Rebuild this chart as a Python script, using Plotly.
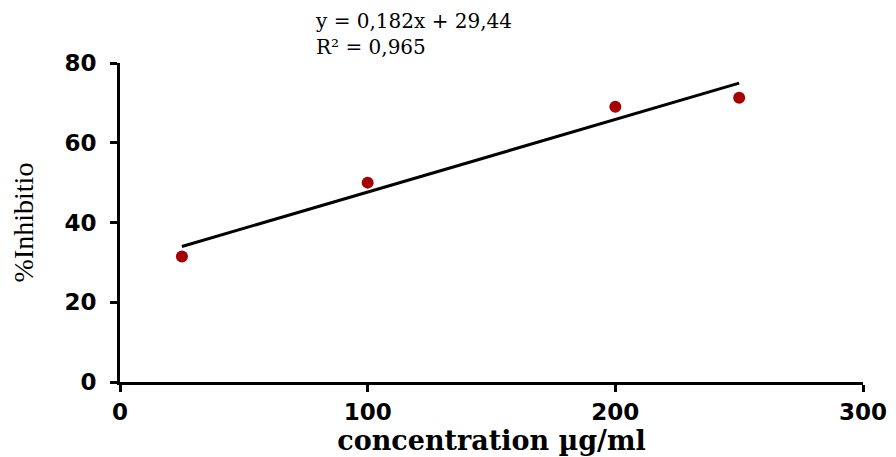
import plotly.graph_objects as go

# Data
concentration = [25, 100, 200, 250]
inhibition = [31.5, 50.0, 69.0, 71.3]
slope = 0.182
intercept = 29.44
r_squared = 0.965
x_ticks = [0, 100, 200, 300]
y_ticks = [0, 20, 40, 60, 80]

fit_x = [min(concentration), max(concentration)]
fit_y = [slope * v + intercept for v in fit_x]

fig = go.Figure()
fig.add_trace(go.Scatter(
    x=fit_x, y=fit_y, mode="lines",
    line=dict(color="black", width=3), showlegend=False, hoverinfo="skip"))
fig.add_trace(go.Scatter(
    x=concentration, y=inhibition, mode="markers",
    marker=dict(color="#A80000", size=12, line=dict(width=0)),
    showlegend=False))

tick_font = dict(family="DejaVu Sans", size=23, color="black", weight="bold")

# the page body has an 8px default margin, so the figure is offset by 8px
W, H = 888, 449
fig.update_layout(
    width=W, height=H,
    margin=dict(l=112, r=33, t=55, b=75),
    paper_bgcolor="white", plot_bgcolor="white",
    xaxis=dict(
        range=[0, 300], tickvals=x_ticks, ticktext=[str(v) for v in x_ticks],
        showgrid=False, zeroline=False, showline=True, linecolor="black", linewidth=3,
        ticks="outside", ticklen=7, tickwidth=3, tickcolor="black",
        tickfont=tick_font, automargin=False, ticklabelstandoff=0,
        title=dict(text="concentration µg/ml",
                   font=dict(family="DejaVu Serif", size=27, color="black", weight="bold"),
                   standoff=6),
    ),
    yaxis=dict(
        range=[0, 80], tickvals=y_ticks, ticktext=[str(v) for v in y_ticks],
        showgrid=False, zeroline=False, showline=True, linecolor="black", linewidth=3,
        ticks="outside", ticklen=7, tickwidth=3, tickcolor="black",
        tickfont=tick_font, automargin=False, ticklabelstandoff=9,
        title=dict(text="%Inhibitio",
                   font=dict(family="Liberation Serif, Times New Roman", size=28, color="black"),
                   standoff=30),
    ),
)

fig.add_annotation(
    xref="paper", yref="paper", x=(305 - 112) / (W - 112 - 33), y=1.0,
    xanchor="left", yanchor="bottom", align="left", showarrow=False,
    text=f"y = {str(slope).replace('.', ',')}x + {str(intercept).replace('.', ',')}<br>R² = {str(r_squared).replace('.', ',')}",
    font=dict(family="DejaVu Serif", size=20, color="black"),
    yshift=2,
)

fig.write_html("out.html")
